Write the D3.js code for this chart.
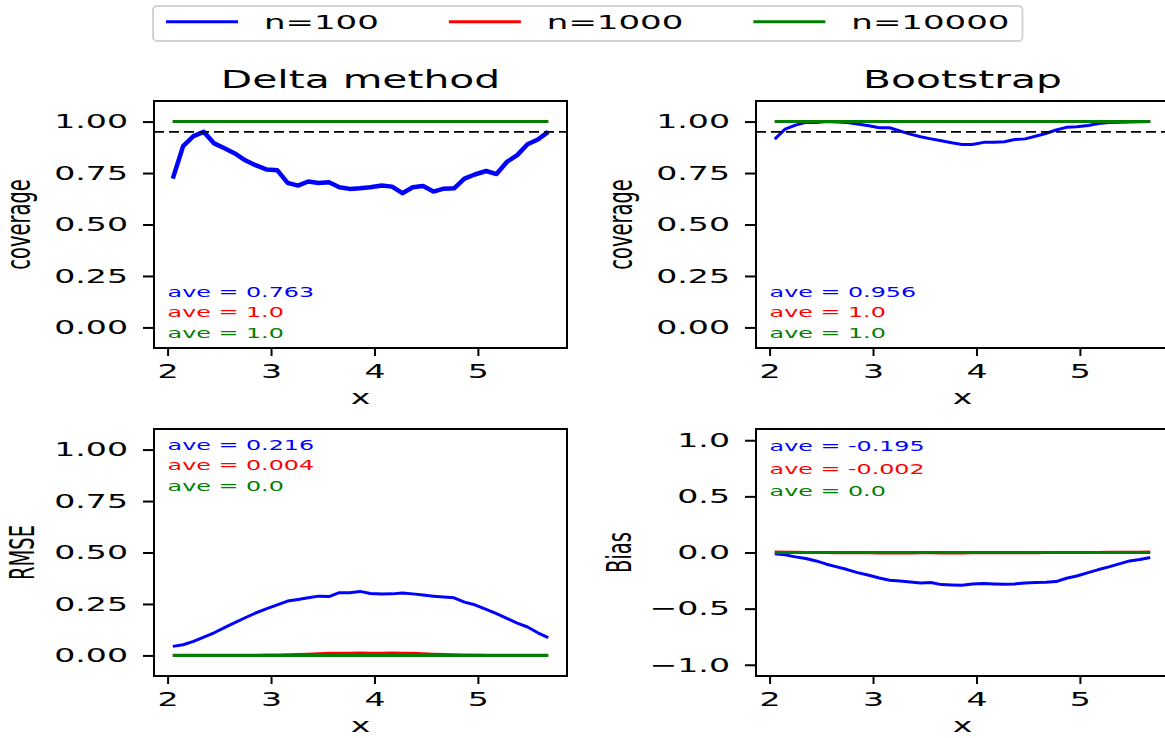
<!DOCTYPE html>
<html>
<head>
<meta charset="utf-8">
<script src="https://cdn.jsdelivr.net/npm/d3@7"></script>
<style>
body { margin: 0; background: #fff; overflow: hidden; }
svg { display: block; font-family: "DejaVu Sans", sans-serif; }
</style>
</head>
<body>
<svg id="chart" width="1165" height="738"></svg>
<script>
// x grid shared by every panel
const xs = [2.05, 2.15, 2.25, 2.35, 2.45, 2.55, 2.65, 2.75, 2.85, 2.96, 3.06, 3.16, 3.26,
    3.36, 3.46, 3.56, 3.66, 3.76, 3.86, 3.96, 4.07, 4.17, 4.27, 4.37, 4.47, 4.57, 4.67,
    4.77, 4.87, 4.97, 5.08, 5.18, 5.28, 5.38, 5.48, 5.58, 5.68];

const seriesNames = ["n=100", "n=1000", "n=10000"];
const seriesColors = ["#0000ff", "#ff0000", "#008000"];

// Delta method coverage
const deltaCov100 = [0.723, 0.881, 0.929, 0.950, 0.894, 0.870, 0.845, 0.812, 0.788, 0.767,
    0.764, 0.702, 0.689, 0.709, 0.702, 0.705, 0.681, 0.673, 0.676, 0.681, 0.689, 0.684,
    0.652, 0.681, 0.687, 0.660, 0.674, 0.676, 0.723, 0.743, 0.760, 0.745, 0.804, 0.837,
    0.890, 0.913, 0.950];
const deltaCov1000 = [1, 1, 1, 1, 1, 1, 1, 1, 1, 1, 1, 1, 1, 1, 1, 1, 1, 1, 1, 1, 1, 1, 1,
    1, 1, 1, 1, 1, 1, 1, 1, 1, 1, 1, 1, 1, 1];
const deltaCov10000 = [1, 1, 1, 1, 1, 1, 1, 1, 1, 1, 1, 1, 1, 1, 1, 1, 1, 1, 1, 1, 1, 1, 1,
    1, 1, 1, 1, 1, 1, 1, 1, 1, 1, 1, 1, 1, 1];

// Bootstrap coverage
const bootCov100 = [0.915, 0.963, 0.983, 0.996, 0.995, 1.0, 0.998, 0.996, 0.988, 0.980,
    0.970, 0.970, 0.954, 0.939, 0.926, 0.916, 0.907, 0.897, 0.889, 0.889, 0.899, 0.900,
    0.902, 0.913, 0.916, 0.929, 0.942, 0.959, 0.972, 0.975, 0.981, 0.991, 0.995, 0.997,
    0.998, 0.999, 1.0];
const bootCov1000 = [1, 1, 1, 1, 1, 1, 1, 1, 1, 1, 1, 1, 1, 1, 1, 1, 1, 1, 1, 1, 1, 1, 1,
    1, 1, 1, 1, 1, 1, 1, 1, 1, 1, 1, 1, 1, 1];
const bootCov10000 = [1, 1, 1, 1, 1, 1, 1, 1, 1, 1, 1, 1, 1, 1, 1, 1, 1, 1, 1, 1, 1, 1, 1,
    1, 1, 1, 1, 1, 1, 1, 1, 1, 1, 1, 1, 1, 1];

// RMSE
const rmse100 = [0.044, 0.052, 0.068, 0.089, 0.110, 0.135, 0.159, 0.183, 0.206, 0.227,
    0.246, 0.264, 0.272, 0.280, 0.288, 0.286, 0.305, 0.305, 0.311, 0.301, 0.298, 0.299,
    0.303, 0.299, 0.293, 0.288, 0.284, 0.280, 0.259, 0.246, 0.224, 0.203, 0.180, 0.157,
    0.138, 0.110, 0.086];
const rmse1000 = [0.001, 0.001, 0.001, 0.001, 0.001, 0.001, 0.001, 0.001, 0.001, 0.002,
    0.002, 0.003, 0.004, 0.006, 0.008, 0.010, 0.011, 0.011, 0.012, 0.011, 0.011, 0.012,
    0.011, 0.010, 0.008, 0.006, 0.004, 0.003, 0.002, 0.002, 0.001, 0.001, 0.001, 0.001,
    0.001, 0.001, 0.001];
const rmse10000 = [0, 0, 0, 0, 0, 0, 0, 0, 0, 0, 0, 0, 0, 0, 0, 0, 0, 0, 0, 0, 0, 0, 0,
    0, 0, 0, 0, 0, 0, 0, 0, 0, 0, 0, 0, 0, 0];

// Bias
const bias100 = [-0.012, -0.021, -0.039, -0.054, -0.075, -0.104, -0.128, -0.152, -0.179,
    -0.203, -0.227, -0.247, -0.253, -0.262, -0.271, -0.268, -0.286, -0.289, -0.292, -0.280,
    -0.277, -0.280, -0.283, -0.280, -0.271, -0.268, -0.265, -0.259, -0.229, -0.209, -0.179,
    -0.152, -0.128, -0.101, -0.075, -0.063, -0.045];
const bias1000 = [0.004, 0.003, 0.002, 0.001, 0, -0.001, -0.002, -0.002, -0.003, -0.003,
    -0.004, -0.004, -0.004, -0.004, -0.003, -0.003, -0.004, -0.004, -0.004, -0.003, -0.003,
    -0.003, -0.003, -0.002, -0.002, -0.002, -0.001, -0.001, -0.001, 0, 0, 0.001, 0.002,
    0.002, 0.003, 0.003, 0.004];
const bias10000 = [0, 0, 0, 0, 0, 0, 0, 0, 0, 0, 0, 0, 0, 0, 0, 0, 0, 0, 0, 0, 0, 0, 0,
    0, 0, 0, 0, 0, 0, 0, 0, 0, 0, 0, 0, 0, 0];

const coverageTicks = [0, 0.25, 0.5, 0.75, 1.0];
const biasTicks = [-1.0, -0.5, 0, 0.5, 1.0];
const xTicks = [2, 3, 4, 5];

// the original picture is stretched sideways, so is the text
const SX = 1.7;
const W = 413, H = 247;

const panels = [
    { title: "Delta method", ylabel: "coverage", left: 154, top: 101, data: [deltaCov100, deltaCov1000, deltaCov10000],
      aves: ["ave = 0.763", "ave = 1.0", "ave = 1.0"], aveY: [0.15, 0.05, -0.05],
      yDomain: [-0.1, 1.1], yTicks: coverageTicks, fmt: ".2f", ref: 0.95, blueWidth: 4.5, ylabOff: 124 },
    { title: "Bootstrap", ylabel: "coverage", left: 756, top: 101, data: [bootCov100, bootCov1000, bootCov10000],
      aves: ["ave = 0.956", "ave = 1.0", "ave = 1.0"], aveY: [0.15, 0.05, -0.05],
      yDomain: [-0.1, 1.1], yTicks: coverageTicks, fmt: ".2f", ref: 0.95, blueWidth: 3, ylabOff: 124 },
    { title: null, ylabel: "RMSE", left: 154, top: 429, data: [rmse100, rmse1000, rmse10000],
      aves: ["ave = 0.216", "ave = 0.004", "ave = 0.0"], aveY: [1.0, 0.9, 0.8],
      yDomain: [-0.1, 1.1], yTicks: coverageTicks, fmt: ".2f", ref: null, blueWidth: 3, ylabOff: 120 },
    { title: null, ylabel: "Bias", left: 756, top: 429, data: [bias100, bias1000, bias10000],
      aves: ["ave = -0.195", "ave = -0.002", "ave = 0.0"], aveY: [0.9, 0.7, 0.5],
      yDomain: [-1.1, 1.1], yTicks: biasTicks, fmt: ".1f", ref: null, blueWidth: 3, ylabOff: 125 }
];

const svg = d3.select("#chart");

// matplotlib style 5% margins on x
const xMin = d3.min(xs), xMax = d3.max(xs);
const xPad = (xMax - xMin) * 0.05;

panels.forEach(p => {
    const g = svg.append("g").attr("transform", `translate(${p.left},${p.top})`);

    const x = d3.scaleLinear().domain([xMin - xPad, xMax + xPad]).range([0, W]);
    const y = d3.scaleLinear().domain(p.yDomain).range([H, 0]);

    const line = d3.line()
        .x((d, i) => x(xs[i]))
        .y(d => y(d));

    p.data.forEach((vals, k) => {
        g.append("path")
            .datum(vals)
            .attr("fill", "none")
            .attr("stroke", seriesColors[k])
            .attr("stroke-width", k === 0 ? p.blueWidth : 3)
            .attr("stroke-linejoin", "round")
            .attr("d", line);
    });

    if (p.ref !== null) {
        g.append("line")
            .attr("x1", 0).attr("x2", W)
            .attr("y1", y(p.ref)).attr("y2", y(p.ref))
            .attr("stroke", "#000")
            .attr("stroke-width", 1.6)
            .attr("stroke-dasharray", "10,5");
    }

    // ave annotations
    p.aves.forEach((txt, k) => {
        g.append("text")
            .attr("transform", `translate(${x(2.0)},${y(p.aveY[k])}) scale(${SX},1)`)
            .attr("fill", seriesColors[k])
            .attr("font-size", 14)
            .text(txt);
    });

    // axes
    const yAxis = g.append("g")
        .call(d3.axisLeft(y).tickValues(p.yTicks).tickSize(11).tickPadding(15).tickFormat(d3.format(p.fmt)));
    const xAxis = g.append("g")
        .attr("transform", `translate(0,${H})`)
        .call(d3.axisBottom(x).tickValues(xTicks).tickSize(8).tickPadding(8).tickFormat(d3.format("d")));

    [yAxis, xAxis].forEach(a => {
        a.select(".domain").remove();
        a.selectAll(".tick line").attr("stroke", "#000").attr("stroke-width", 2);
        a.selectAll(".tick text")
            .attr("fill", "#000")
            .attr("font-size", 19.5)
            .attr("font-family", "DejaVu Sans");
    });
    yAxis.selectAll(".tick text")
        .attr("x", -26 / SX)
        .attr("transform", `scale(${SX},1)`);
    xAxis.selectAll(".tick text")
        .attr("transform", `scale(${SX},1)`);

    g.append("rect")
        .attr("width", W).attr("height", H)
        .attr("fill", "none")
        .attr("stroke", "#000")
        .attr("stroke-width", 2);

    g.append("text")
        .attr("transform", `translate(${W / 2},${H + 55.5}) scale(${SX},1)`)
        .attr("text-anchor", "middle")
        .attr("font-size", 19.5)
        .text("x");

    g.append("text")
        .attr("transform", `translate(${-p.ylabOff},${H / 2}) scale(${SX},1) rotate(-90)`)
        .attr("text-anchor", "middle")
        .attr("font-size", 19.5)
        .text(p.ylabel);

    if (p.title) {
        g.append("text")
            .attr("transform", `translate(${W / 2},-13) scale(${SX},1)`)
            .attr("text-anchor", "middle")
            .attr("font-size", 24)
            .text(p.title);
    }
});

// legend across the top
const legend = svg.append("g");
const legendBox = legend.append("rect")
    .attr("x", 153).attr("y", 6)
    .attr("height", 35)
    .attr("rx", 4)
    .attr("fill", "#fff")
    .attr("stroke", "#d3d3d3")
    .attr("stroke-width", 2);

let cursor = 166;
seriesNames.forEach((name, k) => {
    legend.append("line")
        .attr("x1", cursor).attr("x2", cursor + 72)
        .attr("y1", 21.7).attr("y2", 21.7)
        .attr("stroke", seriesColors[k])
        .attr("stroke-width", 3);
    const t = legend.append("text")
        .attr("transform", `translate(${cursor + 98},29.3) scale(${SX},1)`)
        .attr("font-size", 20)
        .text(name);
    const tw = t.node().getComputedTextLength() * SX;
    cursor = cursor + 98 + tw;
    if (k < seriesNames.length - 1) cursor += 70;
});
legendBox.attr("width", cursor + 13 - 153);
</script>
</body>
</html>
